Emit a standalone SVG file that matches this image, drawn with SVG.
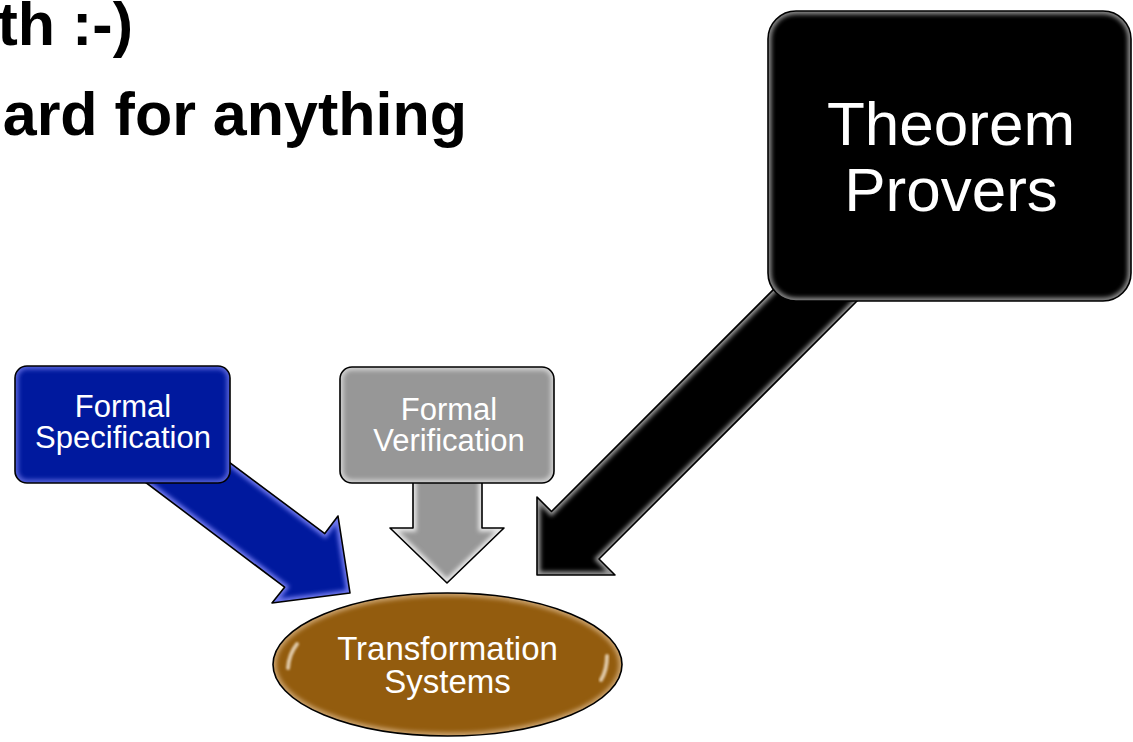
<svg xmlns="http://www.w3.org/2000/svg" width="1133" height="742" viewBox="0 0 1133 742">
  <style>
    .title { font-family: "Liberation Sans", Arial, sans-serif; font-weight: bold; font-size: 61px; fill: #000; }
    .lbl { font-family: "Liberation Sans", Arial, sans-serif; fill: #fff; text-anchor: middle; }
    .s31 { font-size: 31px; }
    .s33 { font-size: 33px; }
    .s62 { font-size: 62px; }
    .outline { fill: none; stroke: #000; stroke-width: 1.6; stroke-linejoin: round; }
    .glow { fill: none; stroke-width: 7; filter: url(#soft); }
    .strip { stroke-width: 3.5; stroke-linecap: round; fill: none; }
    .hl { stroke-width: 4; stroke-linecap: round; fill: none; opacity: 0.8; filter: url(#tiny); }
  </style>
  <defs>
    <filter id="soft" x="-10%" y="-10%" width="120%" height="120%">
      <feGaussianBlur stdDeviation="2"/>
    </filter>
    <filter id="tiny" x="-50%" y="-20%" width="200%" height="140%">
      <feGaussianBlur stdDeviation="1"/>
    </filter>
    <polygon id="arrowBlue" points="150,403 324.8,533.6 338,516 350,593 272,603 284.6,587.2 100,448"/>
    <polygon id="arrowGray" points="413,470 482,470 482,528 504,528 447,583 390,528 413,528"/>
    <polygon id="arrowBlack" points="800,263 551.5,511.5 537,497 537,575 615,575 599,559 880,278"/>
    <rect id="boxBlue" x="15" y="366" width="215" height="117" rx="12"/>
    <rect id="boxGray" x="340" y="367" width="214" height="116" rx="12"/>
    <rect id="boxBlack" x="768" y="11" width="363" height="290" rx="28"/>
    <ellipse id="ellBrown" cx="447.5" cy="664.5" rx="174.5" ry="71.5"/>
    <clipPath id="cpArrowBlue"><use href="#arrowBlue"/></clipPath>
    <clipPath id="cpArrowGray"><use href="#arrowGray"/></clipPath>
    <clipPath id="cpArrowBlack"><use href="#arrowBlack"/></clipPath>
    <clipPath id="cpBoxBlue"><use href="#boxBlue"/></clipPath>
    <clipPath id="cpBoxGray"><use href="#boxGray"/></clipPath>
    <clipPath id="cpBoxBlack"><use href="#boxBlack"/></clipPath>
    <clipPath id="cpEll"><use href="#ellBrown"/></clipPath>
  </defs>

  <rect x="0" y="0" width="1133" height="742" fill="#fff"/>

  <g id="title">
    <text class="title" x="133" y="45" text-anchor="end">th :-)</text>
    <text class="title" x="467" y="135" text-anchor="end">ard for anything</text>
  </g>

  <g id="connectors">
    <g id="conn-spec">
      <g clip-path="url(#cpArrowBlue)">
        <use href="#arrowBlue" fill="#00199e"/>
        <use href="#arrowBlue" class="glow" stroke="#6f78ee"/>
      </g>
      <use href="#arrowBlue" class="outline"/>
    </g>
    <g id="conn-verif">
      <g clip-path="url(#cpArrowGray)">
        <use href="#arrowGray" fill="#979797"/>
        <use href="#arrowGray" class="glow" stroke="#e8e8e8"/>
      </g>
      <use href="#arrowGray" class="outline"/>
    </g>
    <g id="conn-provers">
      <g clip-path="url(#cpArrowBlack)">
        <use href="#arrowBlack" fill="#000"/>
        <use href="#arrowBlack" class="glow" stroke="#9a9a9a"/>
      </g>
      <use href="#arrowBlack" class="outline"/>
    </g>
  </g>

  <g id="node-spec">
    <g clip-path="url(#cpBoxBlue)">
      <use href="#boxBlue" fill="#00199e"/>
      <use href="#boxBlue" class="glow" stroke="#5560d8"/>
    </g>
    <use href="#boxBlue" class="outline"/>
    <line class="hl" x1="27" y1="379" x2="27" y2="469" stroke="#9aa2f6"/>
    <line class="hl" x1="218" y1="381" x2="218" y2="467" stroke="#9aa2f6"/>
    <text class="lbl s31" x="123" y="417">Formal</text>
    <text class="lbl s31" x="123" y="448">Specification</text>
  </g>

  <g id="node-verif">
    <g clip-path="url(#cpBoxGray)">
      <use href="#boxGray" fill="#979797"/>
      <use href="#boxGray" class="glow" stroke="#d0d0d0"/>
    </g>
    <use href="#boxGray" class="outline"/>
    <line class="hl" x1="350" y1="379" x2="350" y2="469" stroke="#ffffff"/>
    <line class="hl" x1="543" y1="381" x2="543" y2="467" stroke="#ffffff"/>
    <text class="lbl s31" x="449" y="420">Formal</text>
    <text class="lbl s31" x="449" y="451">Verification</text>
  </g>

  <g id="node-provers">
    <g clip-path="url(#cpBoxBlack)">
      <use href="#boxBlack" fill="#000"/>
      <use href="#boxBlack" class="glow" stroke="#8a8a8a"/>
    </g>
    <use href="#boxBlack" class="outline"/>
    <line class="hl" x1="780" y1="30" x2="780" y2="286" stroke="#e0e0e0"/>
    <line class="hl" x1="1120" y1="38" x2="1120" y2="286" stroke="#e0e0e0"/>
    <text class="lbl s62" x="951" y="145">Theorem</text>
    <text class="lbl s62" x="951" y="211">Provers</text>
  </g>

  <g id="node-transform">
    <g clip-path="url(#cpEll)">
      <use href="#ellBrown" fill="#935c0e"/>
      <use href="#ellBrown" class="glow" stroke="#c9a06a"/>
    </g>
    <use href="#ellBrown" class="outline"/>
    <path class="hl" d="M288,668 Q289,654 297,644" stroke="#f3e3cc"/>
    <path class="hl" d="M607,656 Q607,670 601,680" stroke="#f3e3cc"/>
    <text class="lbl s33" x="447.5" y="660">Transformation</text>
    <text class="lbl s33" x="447.5" y="693">Systems</text>
  </g>
</svg>
